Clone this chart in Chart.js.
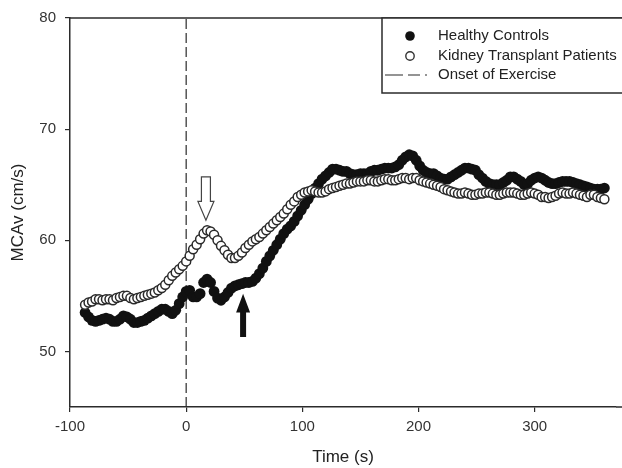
<!DOCTYPE html>
<html>
<head>
<meta charset="utf-8">
<script src="https://cdn.jsdelivr.net/npm/chart.js@4.4.1/dist/chart.umd.min.js"></script>
<style>
  html, body { margin: 0; padding: 0; background: #fff; }
  canvas { display: block; }
</style>
</head>
<body>
<canvas id="mcavChart" width="622" height="468"></canvas>
<script>
// time stamps (s) shared by both groups
const times = [
  -87, -84, -81, -78, -75, -72, -69, -66, -63, -60,
  -57, -54, -51, -48, -45, -42, -39, -36, -33, -30,
  -27, -24, -21, -18, -15, -12, -9, -6, -3, 0,
  3, 6, 9, 12, 15, 18, 21, 24, 27, 30,
  33, 36, 39, 42, 45, 48, 51, 54, 57, 60,
  63, 66, 69, 72, 75, 78, 81, 84, 87, 90,
  93, 96, 99, 102, 105, 108, 111, 114, 117, 120,
  123, 126, 129, 132, 135, 138, 141, 144, 147, 150,
  153, 156, 159, 162, 165, 168, 171, 174, 177, 180,
  183, 186, 189, 192, 195, 198, 201, 204, 207, 210,
  213, 216, 219, 222, 225, 228, 231, 234, 237, 240,
  243, 246, 249, 252, 255, 258, 261, 264, 267, 270,
  273, 276, 279, 282, 285, 288, 291, 294, 297, 300,
  303, 306, 309, 312, 315, 318, 321, 324, 327, 330,
  333, 336, 339, 342, 345, 348, 351, 354, 357, 360
];

// MCAv (cm/s), healthy controls (filled circles)
const healthy = [
  53.5, 53.1, 52.8, 52.7, 52.8, 52.9, 53.0, 52.9, 52.7, 52.7,
  52.9, 53.2, 53.1, 52.9, 52.6, 52.6, 52.7, 52.8, 53.0, 53.2,
  53.4, 53.6, 53.8, 53.8, 53.6, 53.4, 53.7, 54.3, 54.9, 55.4,
  55.5, 54.9, 54.9, 55.2, 56.2, 56.5, 56.2, 55.4, 54.8, 54.6,
  54.9, 55.3, 55.7, 55.9, 56.0, 56.1, 56.2, 56.2, 56.3, 56.6,
  57.0, 57.5, 58.1, 58.6, 59.1, 59.6, 60.1, 60.6, 61.0, 61.3,
  61.7, 62.2, 62.7, 63.2, 63.7, 64.2, 64.7, 65.1, 65.5, 65.8,
  66.1, 66.4, 66.4, 66.3, 66.2, 66.2, 66.0, 65.9, 65.9, 66.0,
  66.0, 66.0, 66.2, 66.3, 66.3, 66.4, 66.5, 66.5, 66.5, 66.6,
  66.8, 67.2, 67.5, 67.7, 67.6, 67.2, 66.7, 66.3, 66.1, 66.0,
  66.0, 65.8, 65.6, 65.5, 65.5, 65.7, 65.9, 66.1, 66.3, 66.5,
  66.5, 66.4, 66.3, 65.9, 65.6, 65.3, 65.1, 65.0, 65.0, 65.0,
  65.2, 65.4, 65.7, 65.7, 65.5, 65.3, 65.0, 65.1, 65.4, 65.6,
  65.7, 65.6, 65.4, 65.2, 65.1, 65.1, 65.2, 65.3, 65.3, 65.3,
  65.2, 65.1, 65.0, 64.9, 64.8, 64.7, 64.6, 64.6, 64.6, 64.7
];

// MCAv (cm/s), kidney transplant patients (open circles)
const kidney = [
  54.2, 54.4, 54.5, 54.7, 54.7, 54.6, 54.7, 54.7, 54.6, 54.8,
  54.9, 55.0, 55.0, 54.8, 54.7, 54.8, 54.9, 55.0, 55.1, 55.2,
  55.3, 55.5, 55.7, 56.0, 56.4, 56.8, 57.1, 57.4, 57.7, 58.1,
  58.6, 59.2, 59.6, 60.1, 60.6, 60.9, 60.8, 60.5, 60.0, 59.5,
  59.1, 58.7, 58.4, 58.4, 58.6, 58.9, 59.3, 59.6, 59.9, 60.1,
  60.3, 60.6, 60.9, 61.2, 61.5, 61.8, 62.1, 62.4, 62.8, 63.2,
  63.5, 63.9, 64.1, 64.3, 64.4, 64.5, 64.4, 64.3, 64.3, 64.4,
  64.6, 64.7, 64.8, 64.9, 65.0, 65.1, 65.1, 65.2, 65.3, 65.3,
  65.3, 65.4, 65.4, 65.3, 65.3, 65.4, 65.5, 65.5, 65.4, 65.4,
  65.5, 65.6, 65.6, 65.5, 65.6, 65.6, 65.4, 65.3, 65.2, 65.1,
  65.0, 64.9, 64.8, 64.6, 64.5, 64.4, 64.3, 64.2, 64.2, 64.3,
  64.2, 64.1, 64.1, 64.2, 64.2, 64.3, 64.3, 64.2, 64.1, 64.1,
  64.2, 64.3, 64.3, 64.3, 64.2, 64.1, 64.1, 64.2, 64.3, 64.2,
  64.1, 63.9, 63.9, 63.8, 63.9, 64.0, 64.2, 64.3, 64.2, 64.2,
  64.3, 64.2, 64.1, 64.0, 63.9, 64.1, 64.1, 63.9, 63.8, 63.7
];

const xTicks = [-100, 0, 100, 200, 300];
const yTicks = [50, 60, 70, 80];
const onsetTime = 0;
const legendLabels = ['Healthy Controls', 'Kidney Transplant Patients', 'Onset of Exercise'];

// arrow annotations, in data units
const openArrow = { t: 17, top: 65.7, base: 63.5, tip: 61.8 };
const solidArrow = { t: 49, tip: 55.2, base: 53.5, bottom: 51.3 };

const ink = '#2b2b2b';
const font = 'Arial, "Liberation Sans", Helvetica, sans-serif';

const toPoints = (ys) => ys.map((y, i) => ({ x: times[i], y: y }));

const extras = {
  id: 'extras',
  afterDatasetsDraw(chart) {
    const ctx = chart.ctx;
    const xs = chart.scales.x, ys = chart.scales.y;
    const area = chart.chartArea;

    // top frame line and bottom axis run to the canvas edge
    ctx.save();
    ctx.strokeStyle = ink;
    ctx.lineWidth = 1.5;
    ctx.beginPath();
    ctx.moveTo(area.left, area.top);
    ctx.lineTo(chart.width, area.top);
    ctx.moveTo(area.right, area.bottom);
    ctx.lineTo(chart.width, area.bottom);
    ctx.stroke();

    // hollow down arrow
    let cx = xs.getPixelForValue(openArrow.t);
    let y0 = ys.getPixelForValue(openArrow.top);
    let y1 = ys.getPixelForValue(openArrow.base);
    let y2 = ys.getPixelForValue(openArrow.tip);
    ctx.beginPath();
    ctx.moveTo(cx - 4.5, y0);
    ctx.lineTo(cx + 4.5, y0);
    ctx.lineTo(cx + 4.5, y1);
    ctx.lineTo(cx + 8, y1);
    ctx.lineTo(cx, y2);
    ctx.lineTo(cx - 8, y1);
    ctx.lineTo(cx - 4.5, y1);
    ctx.closePath();
    ctx.fillStyle = '#fff';
    ctx.fill();
    ctx.lineWidth = 1.2;
    ctx.strokeStyle = '#444';
    ctx.stroke();

    // solid up arrow
    cx = xs.getPixelForValue(solidArrow.t);
    y0 = ys.getPixelForValue(solidArrow.bottom);
    y1 = ys.getPixelForValue(solidArrow.base);
    y2 = ys.getPixelForValue(solidArrow.tip);
    ctx.beginPath();
    ctx.moveTo(cx - 3, y0);
    ctx.lineTo(cx + 3, y0);
    ctx.lineTo(cx + 3, y1);
    ctx.lineTo(cx + 7, y1);
    ctx.lineTo(cx, y2);
    ctx.lineTo(cx - 7, y1);
    ctx.lineTo(cx - 3, y1);
    ctx.closePath();
    ctx.fillStyle = '#111';
    ctx.fill();

    // legend box (runs off the right edge like the original)
    const lx = 382, ly = area.top, lw = 250, lh = 75;
    ctx.fillStyle = '#fff';
    ctx.fillRect(lx, ly, lw, lh);
    ctx.strokeStyle = ink;
    ctx.lineWidth = 1.5;
    ctx.strokeRect(lx, ly, lw, lh);

    ctx.font = '15px ' + font;
    ctx.fillStyle = '#222';
    ctx.textBaseline = 'middle';
    ctx.textAlign = 'left';
    const rows = [ly + 18, ly + 38, ly + 57];
    legendLabels.forEach((t, i) => ctx.fillText(t, 438, rows[i]));

    ctx.beginPath();
    ctx.arc(410, rows[0], 4.8, 0, Math.PI * 2);
    ctx.fillStyle = '#111';
    ctx.fill();

    ctx.beginPath();
    ctx.arc(410, rows[1], 4.2, 0, Math.PI * 2);
    ctx.fillStyle = '#fff';
    ctx.fill();
    ctx.lineWidth = 1.4;
    ctx.strokeStyle = '#333';
    ctx.stroke();

    ctx.beginPath();
    ctx.setLineDash([18, 5, 12, 5]);
    ctx.lineWidth = 1.2;
    ctx.strokeStyle = ink;
    ctx.moveTo(385, rows[2]);
    ctx.lineTo(427, rows[2]);
    ctx.stroke();
    ctx.restore();
  }
};

new Chart(document.getElementById('mcavChart'), {
  type: 'scatter',
  data: {
    datasets: [
      {
        label: legendLabels[1],
        data: toPoints(kidney),
        order: 1,
        pointRadius: 4.5,
        pointBackgroundColor: '#fff',
        pointBorderColor: '#2a2a2a',
        pointBorderWidth: 1.5,
        showLine: false
      },
      {
        label: legendLabels[0],
        data: toPoints(healthy),
        order: 2,
        pointRadius: 5.4,
        pointBackgroundColor: '#111',
        pointBorderColor: '#111',
        pointBorderWidth: 0,
        showLine: false
      },
      {
        label: legendLabels[2],
        data: [{ x: onsetTime, y: 45 }, { x: onsetTime, y: 80 }],
        order: 3,
        showLine: true,
        pointRadius: 0,
        borderColor: ink,
        borderWidth: 1.2,
        borderDash: [10, 4]
      }
    ]
  },
  options: {
    responsive: false,
    animation: false,
    layout: { padding: { top: 17, right: 0, bottom: 0, left: 0 } },
    plugins: {
      legend: { display: false },
      tooltip: { enabled: false }
    },
    scales: {
      x: {
        type: 'linear',
        min: -100,
        max: 370,
        afterBuildTicks: (s) => { s.ticks = xTicks.map(v => ({ value: v })); },
        afterFit: (s) => { s.height = 61; },
        border: { color: ink, width: 1.5 },
        grid: { drawOnChartArea: false, drawTicks: true, tickLength: 5, color: ink, lineWidth: 1.2 },
        ticks: { color: '#333', padding: 6, font: { family: font, size: 15 }, maxRotation: 0 },
        title: { display: true, text: 'Time (s)', color: '#222', padding: { top: 0, bottom: 0 }, font: { family: font, size: 17 } }
      },
      y: {
        min: 45,
        max: 80,
        afterBuildTicks: (s) => { s.ticks = yTicks.map(v => ({ value: v })); },
        afterFit: (s) => { s.width = 70; },
        border: { color: ink, width: 1.5 },
        grid: { drawOnChartArea: false, drawTicks: true, tickLength: 5, color: ink, lineWidth: 1.2 },
        ticks: { color: '#333', padding: 9, font: { family: font, size: 15 } },
        title: { display: true, text: 'MCAv (cm/s)', color: '#222', padding: { top: 8, bottom: 0 }, font: { family: font, size: 17 } }
      }
    }
  },
  plugins: [extras]
});
</script>
</body>
</html>
